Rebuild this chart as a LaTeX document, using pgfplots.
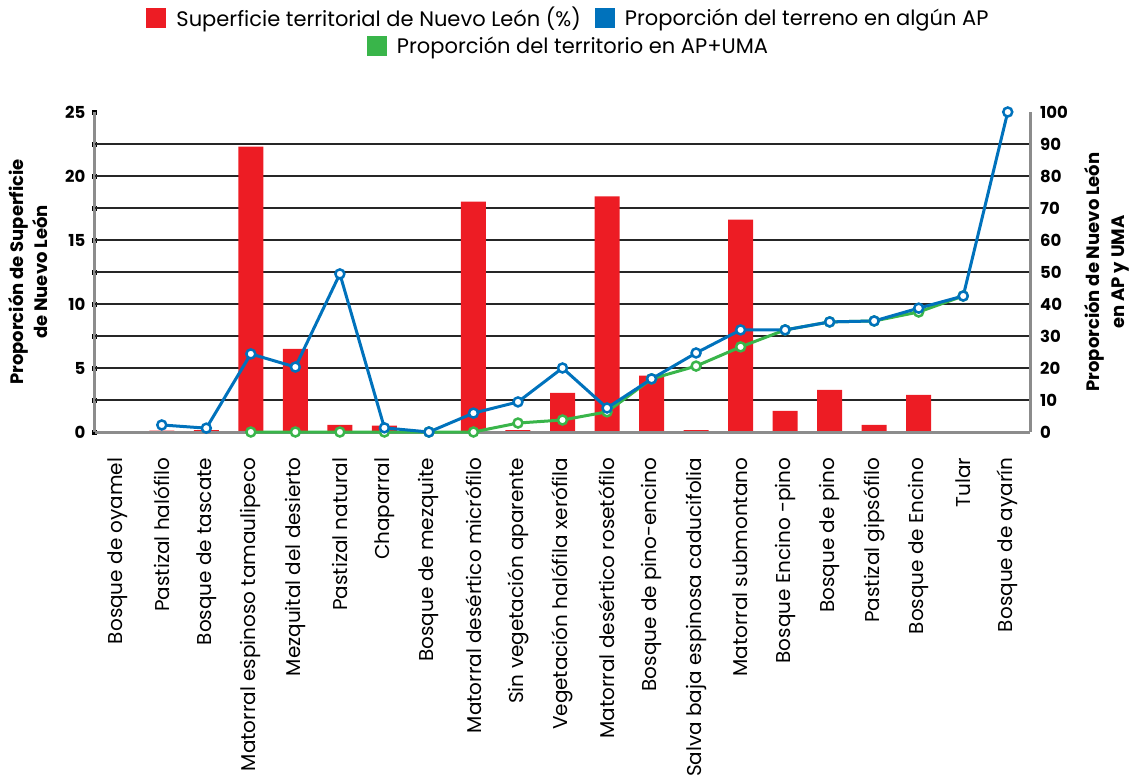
\documentclass[border=0pt]{standalone}
\usepackage{pgfplots}
\pgfplotsset{compat=1.18}
\usepackage{fontspec}
\setmainfont{Poppins}
\definecolor{nlred}{RGB}{237,28,36}
\definecolor{nlblue}{RGB}{0,114,188}
\definecolor{nlgreen}{RGB}{57,181,74}
\definecolor{axgray}{RGB}{140,140,140}
\begin{document}
\begin{tikzpicture}
\useasboundingbox (-95pt,-347pt) rectangle (1042pt,432pt);
\begin{axis}[
  at={(0pt,0pt)}, anchor=south west,
  scale only axis, width=935pt, height=320pt,
  xmin=-0.5, xmax=20.5, ymin=0, ymax=25,
  axis x line*=bottom, axis y line*=left,
  axis line style={axgray, line width=3pt},
  xtick={0,...,20},
  xticklabels={Bosque de oyamel,Pastizal halófilo,Bosque de tascate,Matorral espinoso tamaulipeco,Mezquital del desierto,Pastizal natural,Chaparral,Bosque de mezquite,Matorral desértico micrófilo,Sin vegetación aparente,Vegetación halófila xerófila,Matorral desértico rosetófilo,Bosque de pino-encino,Salva baja espinosa caducifolia,Matorral submontano,Bosque Encino -pino,Bosque de pino,Pastizal gipsófilo,Bosque de Encino,Tular,Bosque de ayarín},
  xtick style={draw=none},
  xticklabel style={rotate=90, anchor=east, inner sep=0pt, font=\fontsize{20}{22}\selectfont},
  xticklabel shift=23pt,
  ytick={0,2.5,...,25},
  yticklabels={0,,5,,10,,15,,20,,25},
  ytick pos=left,
  ytick style={black, line width=5pt},
  major tick length=5pt, tick align=center,
  yticklabel style={font=\bfseries\fontsize{16.5}{18}\selectfont, inner sep=0pt, anchor=east},
  yticklabel shift=7pt,
  extra y ticks={2.5,5,7.5,10,12.5,15,17.5,20,22.5},
  extra y tick labels={,,,,,,,,},
  extra y tick style={ymajorgrids=true, major tick length=0pt},
  grid style={black!85, line width=1.6pt},
  ylabel={Proporción de Superficie\\de Nuevo León},
  ylabel style={at={(axis description cs:-0.0717,0.5)}, anchor=center, align=center, font=\bfseries\fontsize{18}{24}\selectfont},
  legend columns=2,
  legend style={at={(axis description cs:0.5064,1.294)}, anchor=center, draw=none, fill=none, font=\fontsize{21}{24}\selectfont,
    /tikz/every odd column/.append style={column sep=8pt},
    /tikz/every even column/.append style={column sep=12pt}},
  legend image code/.code={\fill[draw=none,#1] (0pt,-10pt) rectangle (20pt,10pt);},
]
\addplot[ybar, bar width=25pt, fill=nlred, draw=none, forget plot] coordinates {
(0,0) (1,0.1) (2,0.15) (3,22.3) (4,6.5) (5,0.55) (6,0.5) (7,0.05) (8,18.0) (9,0.15) (10,3.05)
(11,18.4) (12,4.4) (13,0.15) (14,16.6) (15,1.65) (16,3.3) (17,0.55) (18,2.9) (19,0) (20,0)};
\addlegendimage{fill=nlred, draw=none}
\addlegendentry{Superficie territorial de Nuevo León (\%)}
\addlegendimage{fill=nlblue, draw=none}
\addlegendentry{Proporción del terreno en algún AP}
\end{axis}
\begin{axis}[
  at={(0pt,0pt)}, anchor=south west,
  scale only axis, width=935pt, height=320pt,
  xmin=-0.5, xmax=20.5, ymin=0, ymax=100,
  axis x line*=bottom, axis y line*=right,
  axis line style={axgray, line width=3pt},
  xtick=\empty,
  ytick={0,10,...,100},
  ytick style={draw=none},
  /pgf/number format/assume math mode=true,
  yticklabel style={font=\bfseries\fontsize{16.5}{18}\selectfont, inner sep=0pt, anchor=west},
  yticklabel shift=10pt,
  ylabel={Proporción de Nuevo León\\en AP y UMA},
  ylabel style={at={(axis description cs:1.0824,0.5)}, anchor=center, align=center, font=\bfseries\fontsize{18}{25}\selectfont},
  clip=false,
  legend style={at={(axis description cs:0.5064,1.206)}, anchor=center, draw=none, fill=none, font=\fontsize{21}{24}\selectfont,
    /tikz/every odd column/.append style={column sep=8pt}},
  legend image code/.code={\fill[draw=none,#1] (0pt,-10pt) rectangle (20pt,10pt);},
]
\addplot[nlgreen, line width=3pt, mark=*, mark size=4.5pt, mark options={fill=white, draw=nlgreen, line width=2.5pt}, forget plot] coordinates {
(3,0) (4,0) (5,0) (6,0) (7,0) (8,0) (9,2.8) (10,3.75) (11,6.3) (12,16.6) (13,20.6) (14,26.6)
(15,31.9) (16,34.4) (17,34.7) (18,37.5) (19,42.5)};
\addplot[nlblue, line width=3pt, mark=*, mark size=4.5pt, mark options={fill=white, draw=nlblue, line width=2.5pt}, forget plot] coordinates {
(1,2.2) (2,1.2) (3,24.4) (4,20.3) (5,49.4) (6,1.3) (7,0) (8,5.9) (9,9.4) (10,20) (11,7.5)
(12,16.6) (13,24.7) (14,31.9) (15,31.9) (16,34.4) (17,34.7) (18,38.7) (19,42.5) (20,100)};
\addlegendimage{fill=nlgreen, draw=none}
\addlegendentry{Proporción del territorio en AP+UMA}
\end{axis}
\end{tikzpicture}
\end{document}
